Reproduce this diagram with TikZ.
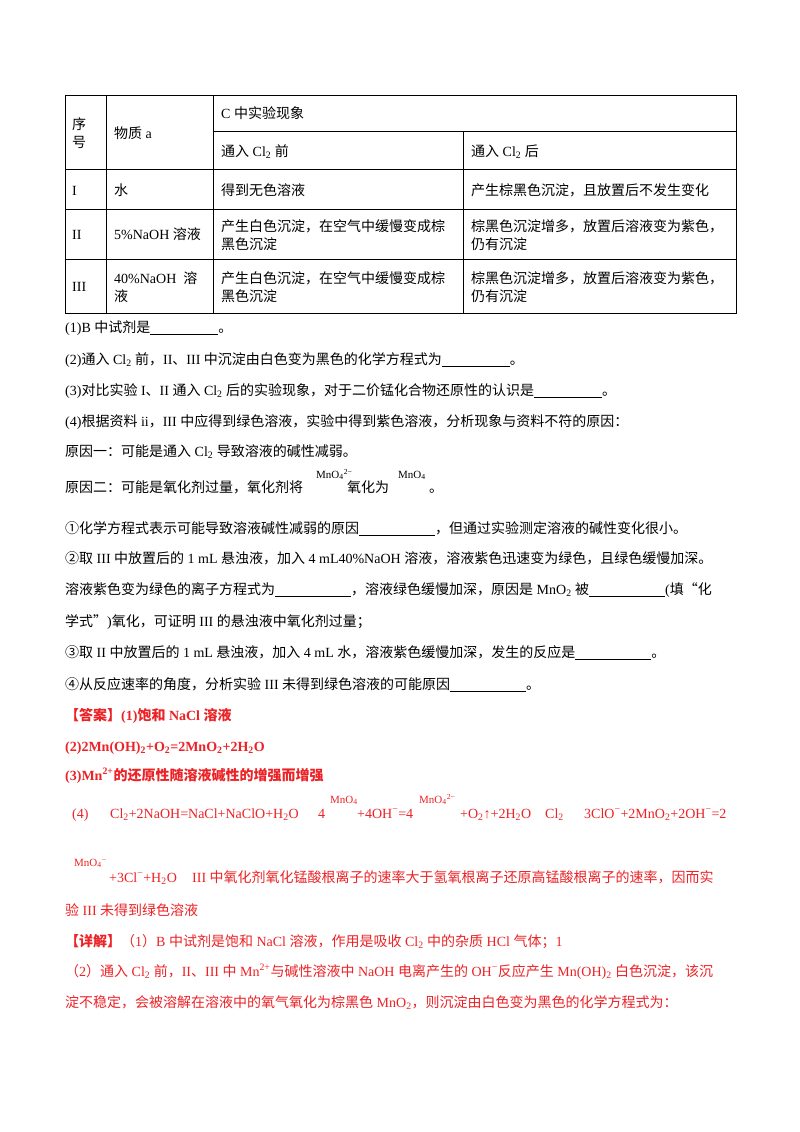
\documentclass[tikz,border=0pt]{standalone}
\usepackage{fontspec}
\setmainfont{Liberation Serif}
\newfontfamily\cjk{Noto Sans CJK SC}
\newXeTeXintercharclass\CJKcls
\makeatletter
\def\setcls#1#2{\count@=#1\relax\loop\XeTeXcharclass\count@=\CJKcls\ifnum\count@<#2\advance\count@ by 1\repeat}
\setcls{"4E00}{"9FFF}
\setcls{"3000}{"303F}
\setcls{"FF00}{"FFEF}
\setcls{"2460}{"2473}
\setcls{"201C}{"201D}
\makeatother
\XeTeXinterchartoks 0 \CJKcls = {\cjk}
\XeTeXinterchartoks 4095 \CJKcls = {\cjk}
\XeTeXinterchartoks \CJKcls 0 = {\rmfamily}
\XeTeXinterchartoks \CJKcls 4095 = {\rmfamily}
\definecolor{ans}{RGB}{236,34,38}
\newcommand\sbs[1]{\textsubscript{#1}}
\newcommand\sps[1]{\textsuperscript{#1}}
\newcommand\blank[1]{\rule[-2pt]{#1pt}{0.5pt}}
\tikzset{
  t/.style={anchor=base west,inner sep=0pt,font=\fontsize{14}{16}\selectfont},
  r/.style={t,text=ans},
  rb/.style={t,text=ans,font=\fontsize{14}{16}\selectfont\bfseries},
  f/.style={anchor=base west,inner sep=0pt,font=\fontsize{11}{12}\selectfont},
  rf/.style={f,text=ans},
  grid/.style={line width=0.7pt}
}
\begin{document}
\XeTeXinterchartokenstate=1
\begin{tikzpicture}[x=1pt,y=-1pt]
\useasboundingbox (0,0) rectangle (800,1132);
\fill[white] (0,0) rectangle (800,1132);
% table
\draw[grid] (65,95) rectangle (736,313);
\draw[grid] (106,95) -- (106,313);
\draw[grid] (213,95) -- (213,313);
\draw[grid] (463,131) -- (463,313);
\draw[grid] (213,131) -- (736,131);
\draw[grid] (65,169) -- (736,169);
\draw[grid] (65,209) -- (736,209);
\draw[grid] (65,259) -- (736,259);
\node[t] (h1) at (72,129) {序};
\node[t] (h2) at (72,147) {号};
\node[t] (h3) at (114,138) {物质 a};
\node[t] (h4) at (221,118) {C 中实验现象};
\node[t] (h5) at (221,156) {通入 Cl\sbs{2} 前};
\node[t] (h6) at (471,156) {通入 Cl\sbs{2} 后};
\node[t] (a1) at (72,195) {I};
\node[t] (a2) at (114,195) {水};
\node[t] (a3) at (221,195) {得到无色溶液};
\node[t] (a4) at (471,195) {产生棕黑色沉淀，且放置后不发生变化};
\node[t] (b1) at (72,239) {II};
\node[t] (b2) at (114,239) {5\%NaOH 溶液};
\node[t] (b3) at (221,231) {产生白色沉淀，在空气中缓慢变成棕};
\node[t] (b3b) at (221,249) {黑色沉淀};
\node[t] (b4) at (471,231) {棕黑色沉淀增多，放置后溶液变为紫色，};
\node[t] (b4b) at (471,249) {仍有沉淀};
\node[t] (c1) at (72,291) {III};
\node[t] (c2) at (114,283) {40\%NaOH\ \ 溶};
\node[t] (c2b) at (114,301) {液};
\node[t] (c3) at (221,283) {产生白色沉淀，在空气中缓慢变成棕};
\node[t] (c3b) at (221,301) {黑色沉淀};
\node[t] (c4) at (471,283) {棕黑色沉淀增多，放置后溶液变为紫色，};
\node[t] (c4b) at (471,301) {仍有沉淀};
% questions
\node[t] (q1) at (65,332) {(1)B 中试剂是\blank{68}。};
\node[t] (q2) at (65,364) {(2)通入 Cl\sbs{2} 前，II、III 中沉淀由白色变为黑色的化学方程式为\blank{68}。};
\node[t] (q3) at (65,395) {(3)对比实验 I、II 通入 Cl\sbs{2} 后的实验现象，对于二价锰化合物还原性的认识是\blank{68}。};
\node[t] (q4) at (65,426) {(4)根据资料 ii，III 中应得到绿色溶液，实验中得到紫色溶液，分析现象与资料不符的原因：};
\node[t] (y1) at (65,456) {原因一：可能是通入 Cl\sbs{2} 导致溶液的碱性减弱。};
\node[t] (y2) at (65,492) {原因二：可能是氧化剂过量，氧化剂将\hspace{44pt}氧化为\hspace{40pt}。};
\node[f] (m1) at (316,478) {MnO\sbs{4}\sps{2−}};
\node[f] (m2) at (398,478) {MnO\sbs{4}};
\node[t] (s1) at (65,533) {①化学方程式表示可能导致溶液碱性减弱的原因\blank{76}，但通过实验测定溶液的碱性变化很小。};
\node[t] (s2) at (65,563) {②取 III 中放置后的 1 mL 悬浊液，加入 4 mL40\%NaOH 溶液，溶液紫色迅速变为绿色，且绿色缓慢加深。};
\node[t] (s3) at (65,594) {溶液紫色变为绿色的离子方程式为\blank{76}，溶液绿色缓慢加深，原因是 MnO\sbs{2} 被\blank{76}(填“化};
\node[t] (s4) at (65,626) {学式”)氧化，可证明 III 的悬浊液中氧化剂过量；};
\node[t] (s5) at (65,657) {③取 II 中放置后的 1 mL 悬浊液，加入 4 mL 水，溶液紫色缓慢加深，发生的反应是\blank{76}。};
\node[t] (s6) at (65,689) {④从反应速率的角度，分析实验 III 未得到绿色溶液的可能原因\blank{76}。};
% answers
\node[rb] (r1) at (65,720) {【答案】(1)饱和 NaCl 溶液};
\node[rb] (r2) at (65,751) {(2)2Mn(OH)\sbs{2}+O\sbs{2}=2MnO\sbs{2}+2H\sbs{2}O};
\node[rb] (r3) at (65,780) {(3)Mn\sps{2+}的还原性随溶液碱性的增强而增强};
\node[r] (r4a) at (72,818) {(4)};
\node[r] (r4b) at (110,818) {Cl\sbs{2}+2NaOH=NaCl+NaClO+H\sbs{2}O};
\node[r] (r4c) at (318,818) {4};
\node[rf] (r4d) at (330,803) {MnO\sbs{4}};
\node[r] (r4e) at (357,818) {+4OH\sps{−}=4};
\node[rf] (r4f) at (419,803) {MnO\sbs{4}\sps{2−}};
\node[r] (r4g) at (460,818) {+O\sbs{2}↑+2H\sbs{2}O};
\node[r] (r4h) at (545,818) {Cl\sbs{2}};
\node[r] (r4i) at (584,818) {3ClO\sps{−}+2MnO\sbs{2}+2OH\sps{−}=2};
\node[rf] (r5a) at (74,866) {MnO\sbs{4}\sps{−}};
\node[r] (r5b) at (109,882) {+3Cl\sps{−}+H\sbs{2}O};
\node[r] (r5c) at (192,882) {III 中氧化剂氧化锰酸根离子的速率大于氢氧根离子还原高锰酸根离子的速率，因而实};
\node[r] (r6) at (65,915) {验 III 未得到绿色溶液};
\node[r] (r7) at (65,946) {\textbf{【详解】}（1）B 中试剂是饱和 NaCl 溶液，作用是吸收 Cl\sbs{2} 中的杂质 HCl 气体；1};
\node[r] (r8) at (65,976) {（2）通入 Cl\sbs{2} 前，II、III 中 Mn\sps{2+}与碱性溶液中 NaOH 电离产生的 OH\sps{−}反应产生 Mn(OH)\sbs{2} 白色沉淀，该沉};
\node[r] (r9) at (65,1007) {淀不稳定，会被溶解在溶液中的氧气氧化为棕黑色 MnO\sbs{2}，则沉淀由白色变为黑色的化学方程式为：};
\end{tikzpicture}
\end{document}
